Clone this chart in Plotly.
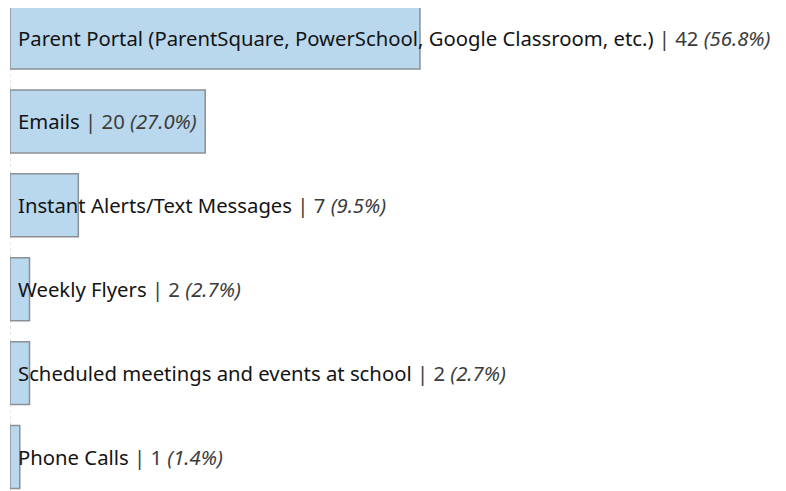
import plotly.graph_objects as go

categories = [
    "Parent Portal (ParentSquare, PowerSchool, Google Classroom, etc.)",
    "Emails",
    "Instant Alerts/Text Messages",
    "Weekly Flyers",
    "Scheduled meetings and events at school",
    "Phone Calls",
]
counts = [42, 20, 7, 2, 2, 1]
percents = [56.8, 27.0, 9.5, 2.7, 2.7, 1.4]

labels = [
    f"{c} <span style='color:#3c3c3c'>| {n} <i>({p:.1f}%)</i></span>"
    for c, n, p in zip(categories, counts, percents)
]

fig = go.Figure()
fig.add_trace(go.Bar(
    x=counts, y=categories, orientation="h",
    marker=dict(color="#b9d8ee", line=dict(color="#8a9096", width=1.5)),
    hoverinfo="skip", showlegend=False,
))
for cat, lab in zip(categories, labels):
    fig.add_annotation(
        x=0, y=cat, xref="x", yref="y", text=lab, showarrow=False,
        xanchor="left", yanchor="middle", xshift=6,
        font=dict(family="Noto Sans", size=20.3, color="#141414"),
    )
fig.add_shape(type="line", xref="x", yref="paper", x0=0, x1=0, y0=0, y1=1,
              line=dict(color="#c8c8c8", width=1, dash="dot"), layer="below")

fig.update_layout(
    width=778, height=483,
    margin=dict(l=2, r=0, t=0, b=0),
    paper_bgcolor="white", plot_bgcolor="white",
    bargap=0.25,
    xaxis=dict(range=[0, 79.5], visible=False, fixedrange=True),
    yaxis=dict(range=[5.405, -0.352], visible=False, type="category",
               categoryorder="array", categoryarray=categories),
    font=dict(family="Noto Sans", size=20),
)
fig.write_html("out.html")
